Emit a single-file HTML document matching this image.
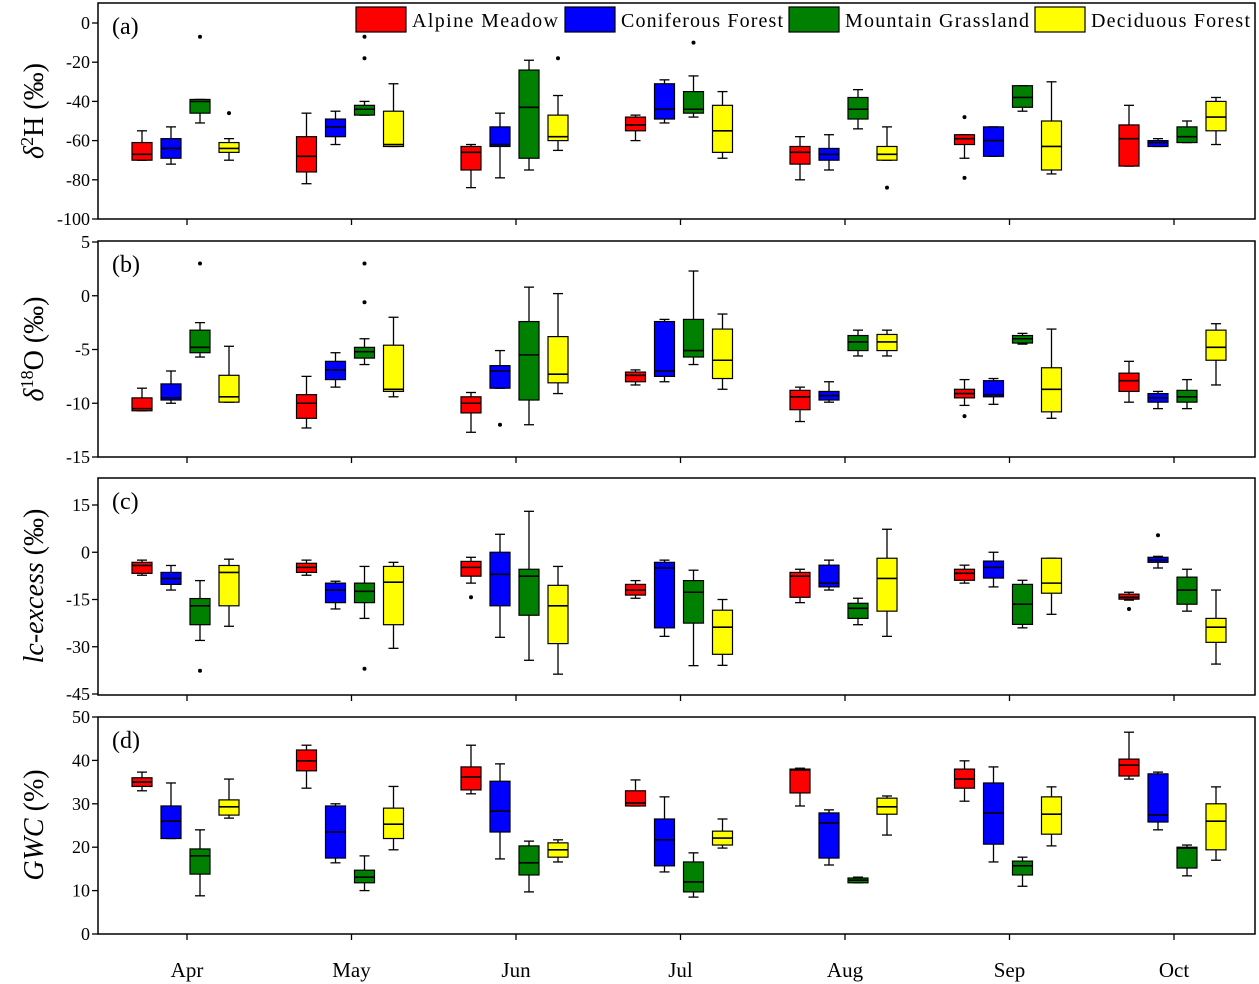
<!DOCTYPE html>
<html><head><meta charset="utf-8"><style>
html,body{margin:0;padding:0;background:#fff}
svg{display:block;font-family:"Liberation Serif",serif}
</style></head><body>
<svg id="chart" width="1259" height="984" viewBox="0 0 1259 984" xmlns="http://www.w3.org/2000/svg"></svg>
<script>
const months=["Apr","May","Jun","Jul","Aug","Sep","Oct"];
const groups=["Alpine Meadow","Coniferous Forest","Mountain Grassland","Deciduous Forest"];
const colors=["#ff0000","#0000ff","#008000","#ffff00"];
// [low whisker, q1, median, q3, high whisker] per month
const aRed=[[-70,-70,-67,-61,-55],[-82,-76,-68,-58,-46],[-84,-75,-66,-63,-62],[-60,-55,-52,-48,-47],[-80,-72,-66,-63,-58],[-69,-62,-59,-57,-57],[-73,-73,-59,-52,-42]];
const aBlue=[[-72,-69,-64,-59,-53],[-62,-58,-53,-49,-45],[-79,-63,-62,-53,-46],[-51,-49,-44,-31,-29],[-75,-70,-67,-64,-57],[-68,-68,-60,-53,-53],[-63,-63,-61,-60,-59]];
const aGreen=[[-51,-46,-40,-39,-39],[-47,-47,-44,-42,-40],[-75,-69,-43,-24,-19],[-48,-46,-44,-35,-27],[-54,-49,-44,-38,-34],[-45,-43,-38,-32,-32],[-61,-61,-58,-53,-50]];
const aYellow=[[-70,-66,-64,-61,-59],[-63,-63,-62,-45,-31],[-65,-60,-58,-47,-37],[-69,-66,-55,-42,-35],[-70,-70,-67,-63,-53],[-77,-75,-63,-50,-30],[-62,-55,-48,-40,-38]];
const aOut=[[0,2,-7],[0,3,-46],[1,2,-7],[1,2,-18],[2,3,-18],[3,2,-10],[4,3,-84],[5,0,-48],[5,0,-79]];
const bRed=[[-10.7,-10.7,-10.5,-9.5,-8.6],[-12.3,-11.4,-10,-9.2,-7.5],[-12.7,-10.9,-10,-9.4,-9],[-8.3,-8,-7.4,-7.1,-6.9],[-11.7,-10.6,-9.4,-8.8,-8.5],[-10.2,-9.5,-9.1,-8.7,-7.8],[-9.9,-8.9,-7.9,-7.2,-6.1]];
const bBlue=[[-10,-9.7,-9.5,-8.2,-7],[-8.5,-7.8,-6.9,-6.1,-5.3],[-8.6,-8.6,-7,-6.5,-5.1],[-8,-7.5,-7,-2.4,-2.2],[-9.9,-9.7,-9.3,-8.9,-8],[-10.1,-9.4,-9.2,-7.9,-7.7],[-10.5,-9.9,-9.5,-9.1,-8.9]];
const bGreen=[[-5.7,-5.3,-4.8,-3.2,-2.5],[-6.4,-5.8,-5.2,-4.8,-4],[-12,-9.7,-5.5,-2.4,0.8],[-6.4,-5.7,-5.1,-2.2,2.3],[-5.6,-5.1,-4.3,-3.7,-3.2],[-4.5,-4.4,-4,-3.7,-3.5],[-10.5,-9.9,-9.4,-8.8,-7.8]];
const bYellow=[[-9.9,-9.9,-9.4,-7.4,-4.7],[-9.4,-8.9,-8.7,-4.6,-2],[-9.1,-8.1,-7.3,-3.8,0.2],[-8.7,-7.7,-6,-3.1,-1.7],[-5.6,-5.1,-4.3,-3.6,-3.2],[-11.4,-10.8,-8.7,-6.7,-3.1],[-8.3,-6,-4.8,-3.2,-2.6]];
const bOut=[[0,2,3],[1,2,3],[1,2,-0.6],[2,1,-12],[5,0,-11.2]];
const cRed=[[-7.3,-6.7,-4.2,-3.2,-2.5],[-7.3,-6.4,-4.8,-3.5,-2.5],[-9.8,-7.6,-4.8,-2.9,-1.6],[-14.6,-13.6,-12,-10.2,-9],[-16,-14.3,-7.6,-6.4,-5.4],[-9.8,-8.9,-6.7,-5.4,-4.1],[-15.2,-14.9,-14.3,-13.3,-12.7]];
const cBlue=[[-12,-10.2,-8.3,-6.4,-4.2],[-18,-16,-12,-9.8,-9.2],[-27,-17,-7,0,5.7],[-26.7,-24,-5,-3.2,-2.5],[-12,-11,-9.8,-4.1,-2.5],[-11,-8.2,-4.8,-2.8,0],[-5,-3.2,-2.5,-1.6,-1.3]];
const cGreen=[[-28,-23,-17,-14.7,-9],[-21,-16,-12.4,-9.8,-4.5],[-34.3,-20,-7.6,-5.4,13],[-36,-22.5,-12.7,-9,-5.7],[-23,-21,-17.8,-16.2,-14.6],[-24,-22.9,-16.5,-10.2,-8.9],[-18.7,-16.5,-12,-7.9,-5.4]];
const cYellow=[[-23.5,-17,-6.4,-4.2,-2.2],[-30.5,-23,-9.5,-4.5,-3.2],[-38.7,-29,-17,-10.5,-4.5],[-35.9,-32.4,-23.8,-18.4,-15],[-26.7,-18.7,-8.3,-1.9,7.3],[-19.7,-13,-9.8,-1.9,-1.9],[-35.5,-28.6,-23.8,-21,-12]];
const cOut=[[0,2,-37.6],[1,2,-37],[2,0,-14.3],[6,0,-18],[6,1,5.4]];
const dRed=[[33,34,35,36,37.3],[33.6,37.6,39.9,42.4,43.5],[32.3,33.2,36.2,38.5,43.5],[29.5,29.5,30.2,33,35.5],[29.5,32.5,37.8,38,38.2],[30.6,33.6,35.7,38,39.9],[35.7,36.4,38.9,40.3,46.5]];
const dBlue=[[22,22,26,29.5,34.8],[16.4,17.5,23.5,29.5,30],[17.3,23.5,28.3,35.2,39.2],[14.3,15.7,21.7,26.5,31.6],[15.9,17.5,25.6,27.9,28.6],[16.6,20.7,27.9,34.8,38.5],[24,25.8,27.4,36.9,37.3]];
const dGreen=[[8.8,13.8,18,19.6,24],[10,11.8,13.1,14.7,18],[9.7,13.6,16.4,20.3,21.4],[8.5,9.7,12,16.6,18.7],[11.8,11.8,12.4,12.9,13.1],[11,13.6,15.7,16.8,17.7],[13.4,15.2,19.8,20,20.5]];
const dYellow=[[26.7,27.4,29.3,30.9,35.7],[19.4,22,25.3,29,34],[16.6,17.7,19.4,21,21.7],[19.8,20.5,22.1,23.7,26.5],[22.8,27.6,29.3,31.3,31.8],[20.3,23,27.6,31.6,33.9],[17,19.4,26,30,33.9]];
const dOut=[];
const aTicks=[0,-20,-40,-60,-80,-100];
const bTicks=[5,0,-5,-10,-15];
const cTicks=[15,0,-15,-30,-45];
const dTicks=[50,40,30,20,10,0];

const svg=document.getElementById('chart');
const NS="http://www.w3.org/2000/svg";
function mk(tag,attrs,parent){const e=document.createElementNS(NS,tag);for(const k in attrs)e.setAttribute(k,attrs[k]);(parent||svg).appendChild(e);return e;}
const X0=98,X1=1255;
function xMonth(i){return 187+i*164.5;}
const offs=[-45,-16,13,42];
const panels=[
 {id:'a',top:3,bot:219,v0:0,p0:23,v1:-100,p1:219,series:[aRed,aBlue,aGreen,aYellow],out:aOut,ticks:aTicks},
 {id:'b',top:241,bot:457,v0:5,p0:242,v1:-15,p1:457,series:[bRed,bBlue,bGreen,bYellow],out:bOut,ticks:bTicks},
 {id:'c',top:478,bot:695,v0:15,p0:505,v1:-45,p1:694,series:[cRed,cBlue,cGreen,cYellow],out:cOut,ticks:cTicks},
 {id:'d',top:717,bot:934,v0:50,p0:717,v1:0,p1:934,series:[dRed,dBlue,dGreen,dYellow],out:dOut,ticks:dTicks}
];
panels.forEach(P=>{
 const y=v=>P.p0+(v-P.v0)/(P.v1-P.v0)*(P.p1-P.p0);
 const g=mk('g',{});
 
 
 const fr=mk('rect',{x:X0,y:P.top,width:X1-X0,height:P.bot-P.top,fill:'none',stroke:'#000','stroke-width':1.5},g);
 
 
 P.ticks.forEach(t=>{
  const ty=y(t);
  const tl=mk('line',{x1:X0-6,x2:X0,y1:ty,y2:ty,stroke:'#000','stroke-width':1.3},g);
  
  
  const tx=mk('text',{x:X0-8,y:ty+6,'text-anchor':'end','font-size':18},g);
  
  
  tx.textContent=t;
 });
 months.forEach((m,i)=>{
  const mt=mk('line',{x1:xMonth(i),x2:xMonth(i),y1:P.bot,y2:P.bot+6,stroke:'#000','stroke-width':1.3},g);
  
  
 });
 const pl=mk('text',{x:112,y:P.top+31,'font-size':24},g);
 
 
 pl.textContent='('+P.id+')';
 P.series.forEach((ser,gi)=>{
  ser.forEach((b,mi)=>{
   const cx=xMonth(mi)+offs[gi], w=20;
   const bg=mk('g',{},g);
   
   
   mk('line',{x1:cx,x2:cx,y1:y(b[0]),y2:y(b[4]),stroke:'#000','stroke-width':1.3},bg);
   mk('line',{x1:cx-5,x2:cx+5,y1:y(b[0]),y2:y(b[0]),stroke:'#000','stroke-width':1.3},bg);
   mk('line',{x1:cx-5,x2:cx+5,y1:y(b[4]),y2:y(b[4]),stroke:'#000','stroke-width':1.3},bg);
   mk('rect',{x:cx-w/2,y:y(b[3]),width:w,height:Math.max(1,y(b[1])-y(b[3])),fill:colors[gi],stroke:'#000','stroke-width':1.2},bg);
   mk('line',{x1:cx-w/2,x2:cx+w/2,y1:y(b[2]),y2:y(b[2]),stroke:'#000','stroke-width':1.6},bg);
  });
 });
 P.out.forEach(o=>{
  const c=mk('circle',{cx:xMonth(o[0])+offs[o[1]],cy:y(o[2]),r:2,fill:'#000'},g);
  
  
 });
});
months.forEach((m,i)=>{
 const t=mk('text',{x:xMonth(i),y:977,'text-anchor':'middle','font-size':21});
 
 
 t.textContent=m;
});
// legend
const lg=mk('g',{});


const lx=[356,565,789,1035];
const lw=[146,162,184,159];
groups.forEach((gname,i)=>{
 const e=mk('g',{},lg);
 
 
 mk('rect',{x:lx[i],y:7,width:50,height:25,fill:colors[i],stroke:'#000','stroke-width':1.2},e);
 const t=mk('text',{x:lx[i]+56,y:27,'font-size':20,textLength:lw[i],lengthAdjust:'spacing'},e);
 t.textContent=gname;
});
</script>
<div style="position:absolute;left:0;top:0;width:1259px;height:984px;pointer-events:none">
<svg width="1259" height="984" style="position:absolute;left:0;top:0">
<text transform="translate(43,111) rotate(-90)" text-anchor="middle" font-size="28" font-family="Liberation Serif, serif"><tspan font-style="italic">δ</tspan><tspan baseline-shift="super" font-size="18">2</tspan>H (‰)</text>
<text transform="translate(43,349) rotate(-90)" text-anchor="middle" font-size="28" font-family="Liberation Serif, serif"><tspan font-style="italic">δ</tspan><tspan baseline-shift="super" font-size="18">18</tspan>O (‰)</text>
<text transform="translate(43,586) rotate(-90)" text-anchor="middle" font-size="28" font-family="Liberation Serif, serif"><tspan font-style="italic">lc-excess</tspan> (‰)</text>
<text transform="translate(43,825) rotate(-90)" text-anchor="middle" font-size="28" font-family="Liberation Serif, serif"><tspan font-style="italic">GWC</tspan> (%)</text>
</svg></div>
</body></html>
